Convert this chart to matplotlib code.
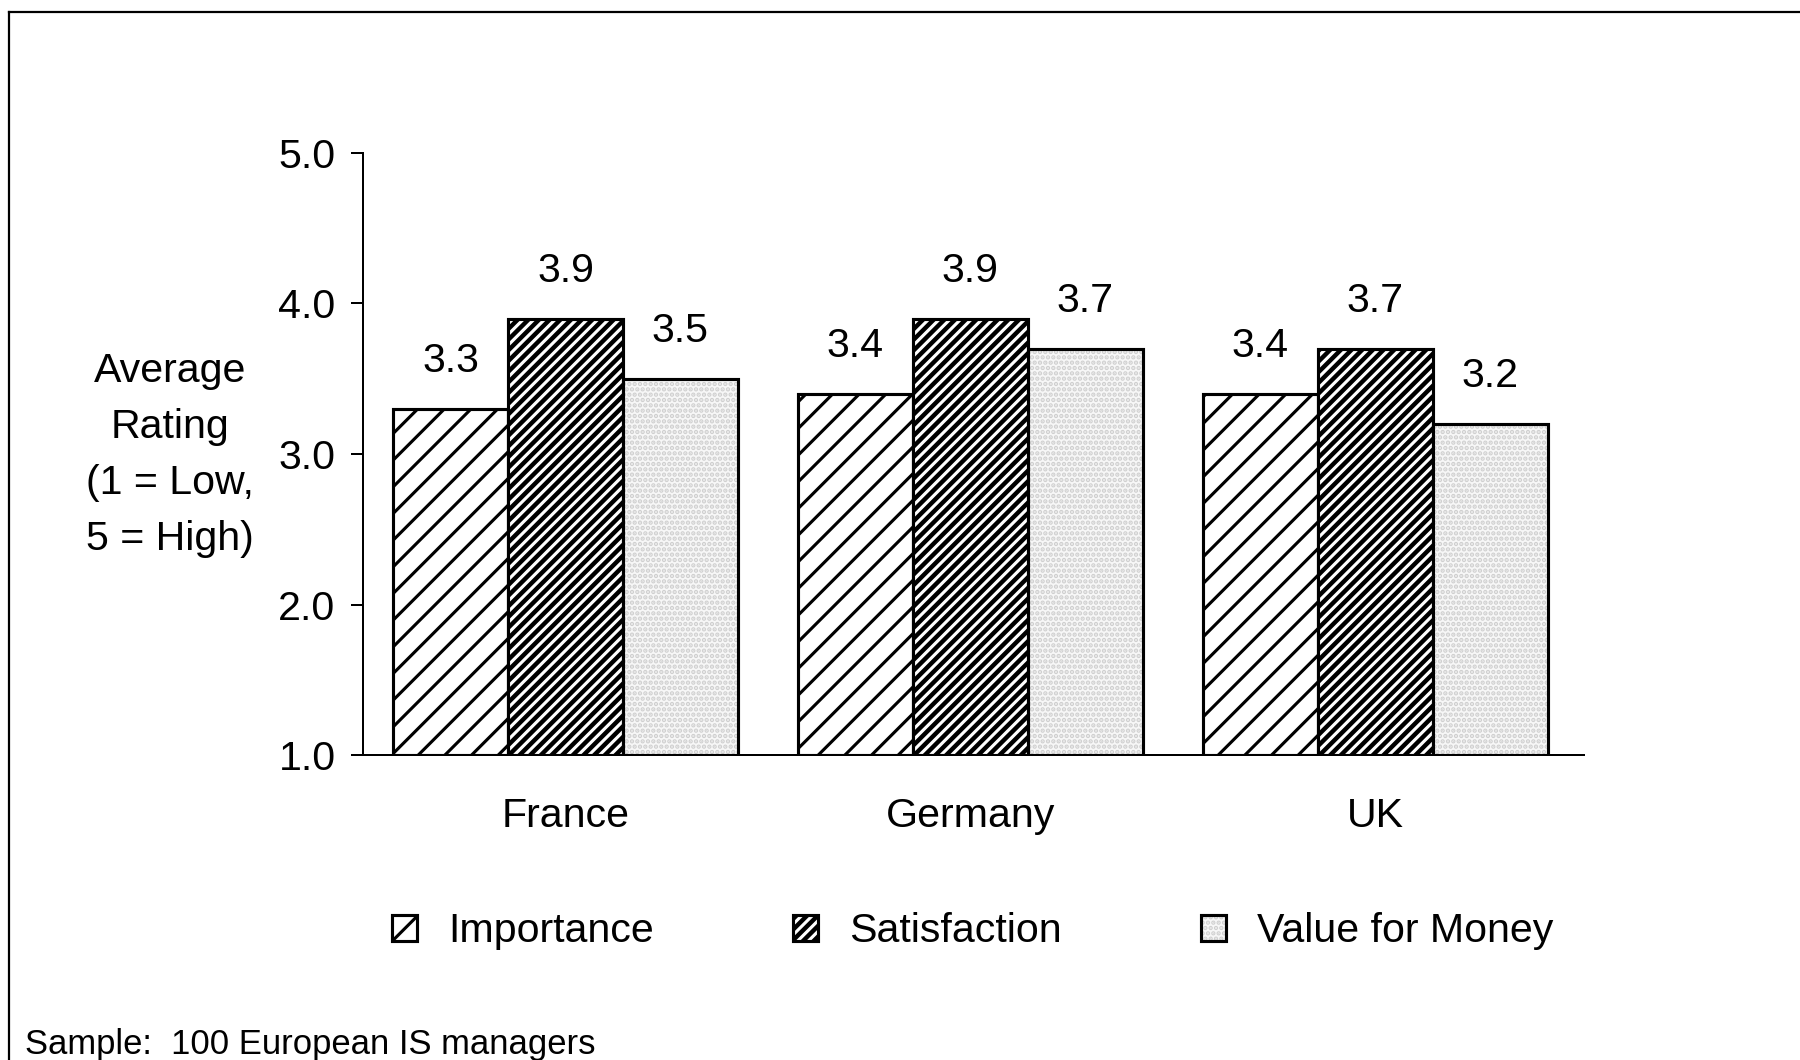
"""
Average rating of IS suppliers by European IS managers, by country.
"""

import matplotlib.pyplot as plt
import numpy as np
from matplotlib.lines import Line2D
from matplotlib.patches import Patch

# Survey averages (1 = Low, 5 = High)
countries = ['France', 'Germany', 'UK']
importance = [3.3, 3.4, 3.4]
satisfaction = [3.9, 3.9, 3.7]
value_for_money = [3.5, 3.7, 3.2]
series_names = ['Importance', 'Satisfaction', 'Value for Money']
rating_ticks = [1.0, 2.0, 3.0, 4.0, 5.0]
sample_note = 'Sample:  100 European IS managers'

# Fill styles: (face colour, hatch colour, hatch pattern)
fills = [
    ('white', 'black', '//'),
    ('black', 'white', '/////'),
    ('#f7f7f7', '#d0d0d0', '.....'),
]


if __name__ == '__main__':
    plt.rcParams['font.family'] = ['Liberation Sans', 'DejaVu Sans']
    plt.rcParams['font.size'] = 18.5
    plt.rcParams['hatch.linewidth'] = 1.4

    figure = plt.figure(figsize=(11.25, 6.625), dpi=160, facecolor='white')
    axis = figure.add_axes([0.2017, 0.2877, 0.6783, 0.568])

    # Bars start from the bottom of the rating scale
    group_x = np.arange(len(countries))
    bar_width = 0.284
    base = rating_ticks[0]
    outline = dict(edgecolor='black', linewidth=1.4)

    all_values = [importance, satisfaction, value_for_money]
    offsets = [-bar_width, 0, bar_width]
    for offset, values, (face, hatch_color, hatch) in zip(offsets, all_values, fills):
        heights = np.array(values) - base
        # Hatched fill first, then a plain black outline on top
        axis.bar(group_x + offset, heights, bar_width, bottom=base,
                 facecolor=face, edgecolor=hatch_color, hatch=hatch, linewidth=0)
        axis.bar(group_x + offset, heights, bar_width, bottom=base,
                 fill=False, **outline)

        # Value labels above each bar
        for x, value in zip(group_x + offset, values):
            axis.annotate(f'{value:.1f}', (x, value), xytext=(0, 21.5),
                          textcoords='offset points', ha='center', va='center')

    # Axes styling
    axis.set_xlim(-0.5, 2.516)
    axis.set_ylim(rating_ticks[0], rating_ticks[-1])
    axis.set_yticks(rating_ticks)
    axis.set_yticklabels([f'{tick:.1f}' for tick in rating_ticks])
    axis.set_xticks(group_x)
    axis.set_xticklabels(countries)
    axis.tick_params(axis='y', length=5.4, width=0.9, pad=7)
    axis.tick_params(axis='x', length=0, pad=19)
    for side in ['top', 'right']:
        axis.spines[side].set_visible(False)
    for side in ['left', 'bottom']:
        axis.spines[side].set_linewidth(0.9)
    axis.set_facecolor('white')

    figure.text(0.0944, 0.5712, 'Average\nRating\n(1 = Low,\n5 = High)',
                ha='center', va='center', multialignment='center',
                linespacing=1.6)

    # Legend across the bottom
    handles = [
        (Patch(facecolor=face, edgecolor=hatch_color, hatch=hatch, linewidth=0),
         Patch(fill=False, **outline))
        for face, hatch_color, hatch in fills
    ]
    figure.legend(handles, series_names, loc='center',
                  bbox_to_anchor=(0.5404, 0.1215), ncol=3, frameon=False,
                  handlelength=0.6, handleheight=0.6, handletextpad=0.75,
                  columnspacing=3.4)

    figure.text(0.014, 0.0145, sample_note, fontsize=15.6,
                ha='left', va='center')

    # Page frame along the top and left edges
    figure.add_artist(Line2D([0.005, 1.0], [0.989, 0.989], color='black',
                             linewidth=1.0, transform=figure.transFigure))
    figure.add_artist(Line2D([0.005, 0.005], [0.0, 0.989], color='black',
                             linewidth=1.0, transform=figure.transFigure))

    figure.savefig('out.png', dpi=160, facecolor='white')
